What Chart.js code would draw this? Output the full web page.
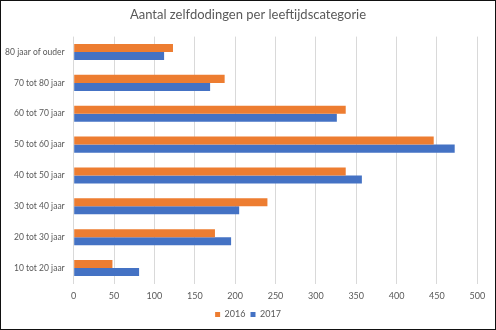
<!DOCTYPE html>
<html>
<head>
<meta charset="utf-8">
<script src="https://cdn.jsdelivr.net/npm/chart.js@4/dist/chart.umd.min.js"></script>
<style>
  body { margin: 0; background: #fff; }
  .frame { width: 496px; height: 330px; box-sizing: border-box; border: 1px solid #111; background: #fff; }
  canvas { display: block; }
</style>
</head>
<body>
<div class="frame"><canvas id="barChart" width="494" height="328"></canvas></div>
<script>
// categories top to bottom, as in the picture
const categories = ['80 jaar of ouder', '70 tot 80 jaar', '60 tot 70 jaar', '50 tot 60 jaar',
  '40 tot 50 jaar', '30 tot 40 jaar', '20 tot 30 jaar', '10 tot 20 jaar'];
const values2016 = [123, 187, 337, 446, 337, 240, 175, 48];
const values2017 = [112, 169, 326, 472, 357, 205, 195, 81];
const xTicks = [0, 50, 100, 150, 200, 250, 300, 350, 400, 450, 500];

const grey = '#595959';
const font = 'Lato, "Open Sans", sans-serif';

const ctx = document.getElementById('barChart').getContext('2d');

new Chart(ctx, {
  type: 'bar',
  data: {
    labels: categories,
    datasets: [
      { label: '2016', data: values2016, backgroundColor: '#ED7D31' },
      { label: '2017', data: values2017, backgroundColor: '#4472C4' }
    ]
  },
  options: {
    responsive: false,
    animation: false,
    indexAxis: 'y',
    datasets: { bar: { categoryPercentage: 0.52, barPercentage: 1 } },
    layout: { padding: 0 },
    plugins: {
      title: {
        display: true,
        text: 'Aantal zelfdodingen per leeftijdscategorie',
        color: grey,
        font: { family: font, size: 13, weight: 'normal' },
        padding: { top: 6, bottom: 14 }
      },
      legend: {
        position: 'bottom',
        labels: {
          color: grey,
          font: { family: font, size: 9 },
          boxWidth: 5,
          boxHeight: 5,
          padding: 5
        }
      },
      tooltip: { enabled: false }
    },
    scales: {
      x: {
        min: 0,
        max: 500,
        afterBuildTicks: function(scale) {
          scale.ticks = xTicks.map(function(v) { return { value: v }; });
        },
        afterFit: function(scale) { scale.height = 21.5; },
        grid: { color: '#d9d9d9', drawTicks: false },
        border: { display: false },
        ticks: { color: grey, font: { family: font, size: 9 }, padding: 7 }
      },
      y: {
        afterFit: function(scale) { scale.width = 72.7; },
        grid: { display: false, drawTicks: false },
        border: { display: false },
        ticks: { color: grey, font: { family: font, size: 8.5 }, padding: 9 }
      },
      // empty axis on the right, only to keep the gap after 500
      gap: {
        type: 'linear',
        position: 'right',
        afterFit: function(scale) { scale.width = 17.7; },
        grid: { display: false, drawTicks: false },
        border: { display: false },
        ticks: { display: false }
      }
    }
  }
});
</script>
</body>
</html>
